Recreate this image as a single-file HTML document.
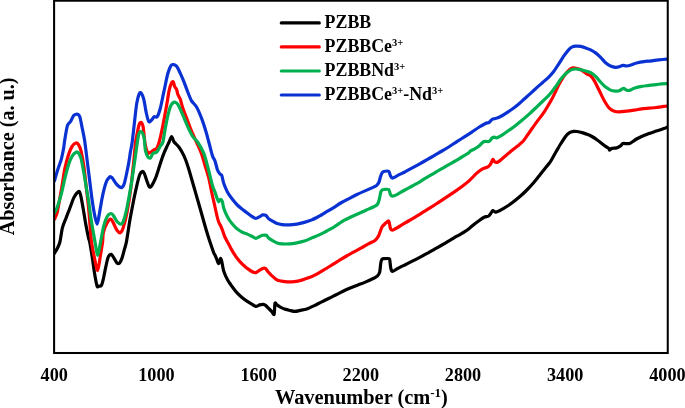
<!DOCTYPE html>
<html><head><meta charset="utf-8"><title>FTIR spectra</title>
<style>
html,body{margin:0;padding:0;background:#fff;}
body{width:685px;height:408px;overflow:hidden;}
svg{display:block;}
text{font-family:"Liberation Serif",serif;font-weight:bold;fill:#000;}
.tk text{font-size:18.2px;}
.lg text{font-size:17.85px;}
.sup{font-size:10.5px;}
.ax{font-size:20.15px;}
.crv path{fill:none;stroke-width:3.2;stroke-linejoin:round;stroke-linecap:round;}
</style></head><body>
<svg width="685" height="408" viewBox="0 0 685 408">
<rect x="0" y="0" width="685" height="408" fill="#fff"/>
<defs><clipPath id="cp"><rect x="54.1" y="0" width="613.65" height="353"/></clipPath></defs>
<g class="crv" clip-path="url(#cp)">
<path d="M54.5,253.2C54.9,252.5 56.6,249.8 57.4,248.2C58.2,246.6 59.2,244.9 59.9,242.0C60.6,239.1 61.5,231.2 62.4,227.8C63.3,224.4 65.0,220.7 66.1,217.9C67.1,215.1 68.9,210.8 69.9,208.0C71.0,205.2 72.6,200.2 73.6,198.1C74.6,196.0 76.0,194.0 76.8,193.1C77.6,192.2 78.7,190.9 79.3,191.4C79.9,191.9 80.4,194.1 81.0,196.8C81.6,199.5 82.8,206.5 83.5,210.5C84.2,214.5 85.3,221.6 86.0,225.4C86.7,229.2 88.0,235.5 88.5,237.8C89.0,240.1 89.2,239.3 89.7,242.0C90.2,244.7 91.5,252.4 92.2,256.9C92.9,261.4 94.0,270.2 94.7,274.3C95.4,278.4 96.5,284.5 97.1,286.2C97.7,287.9 98.5,286.3 99.1,286.2C99.7,286.1 100.8,286.4 101.4,285.4C102.0,284.4 102.7,281.8 103.3,279.2C103.9,276.6 105.1,269.9 105.8,266.8C106.5,263.7 107.5,258.6 108.3,256.9C109.1,255.2 110.5,254.2 111.3,254.4C112.1,254.6 113.2,256.9 114.0,258.1C114.8,259.3 116.2,262.4 117.0,263.1C117.8,263.8 118.8,263.8 119.5,263.1C120.2,262.4 121.3,260.0 122.0,258.1C122.7,256.2 123.8,251.7 124.4,249.4C125.0,247.1 125.7,245.7 126.4,242.0C127.1,238.3 128.5,228.4 129.4,222.9C130.3,217.4 132.1,208.2 133.1,203.0C134.1,197.8 135.9,189.7 136.8,185.7C137.7,181.7 139.0,176.5 139.8,174.5C140.6,172.5 141.7,171.7 142.3,171.5C142.9,171.3 143.7,172.0 144.3,173.3C144.9,174.6 146.1,178.8 146.8,180.7C147.5,182.6 148.6,186.2 149.3,186.9C150.0,187.6 150.8,186.9 151.7,185.7C152.6,184.5 154.4,180.8 155.5,178.2C156.6,175.6 158.2,170.2 159.2,167.1C160.2,164.0 161.9,158.7 162.9,155.9C163.9,153.1 165.7,149.1 166.6,147.2C167.5,145.3 168.4,143.5 169.1,142.0C169.8,140.5 170.9,136.5 171.6,136.5C172.3,136.5 173.1,140.5 174.1,142.0C175.1,143.5 177.6,145.3 179.0,147.2C180.4,149.1 182.8,153.3 184.0,155.9C185.2,158.5 186.7,162.7 187.7,165.8C188.7,168.9 190.2,174.0 191.4,178.2C192.6,182.4 195.0,190.7 196.4,195.6C197.8,200.5 200.0,208.1 201.4,213.0C202.8,217.9 205.1,226.2 206.3,230.3C207.5,234.4 208.9,238.8 210.0,242.0C211.1,245.2 213.1,251.2 213.8,253.0C214.5,254.8 214.6,254.0 215.0,255.0C215.4,256.0 216.5,258.8 217.0,260.0C217.5,261.2 218.2,263.7 218.7,263.5C219.2,263.3 220.1,258.7 220.5,258.5C220.9,258.3 221.5,260.5 221.9,262.2C222.3,263.9 222.9,268.5 223.7,270.9C224.5,273.3 226.2,277.3 227.4,279.6C228.6,281.9 231.0,285.1 232.4,287.0C233.8,288.9 235.9,291.7 237.3,293.2C238.7,294.7 240.9,296.6 242.3,297.7C243.7,298.8 245.9,300.5 247.3,301.4C248.7,302.3 251.0,303.7 252.2,304.4C253.4,305.1 254.8,306.3 255.9,306.4C256.9,306.5 258.6,305.2 259.7,304.9C260.8,304.6 262.5,304.3 263.4,304.4C264.3,304.5 265.2,305.1 265.9,305.6C266.6,306.1 267.5,307.3 268.3,308.1C269.1,308.9 270.8,310.5 271.6,311.4C272.4,312.3 273.6,315.4 274.1,314.3C274.6,313.2 274.6,304.5 275.0,303.2C275.4,301.9 276.2,304.3 277.0,304.9C277.8,305.5 279.6,306.8 280.8,307.4C282.0,308.0 284.3,309.0 285.7,309.4C287.1,309.8 289.5,310.3 290.7,310.6C291.9,310.9 293.2,311.4 294.4,311.4C295.6,311.4 297.7,311.0 299.4,310.6C301.1,310.2 304.7,309.6 306.8,308.9C308.9,308.2 312.2,306.6 314.3,305.6C316.4,304.6 319.6,302.9 321.7,301.9C323.8,300.9 327.0,299.2 329.1,298.2C331.2,297.2 334.5,295.5 336.6,294.5C338.7,293.5 341.9,291.8 344.0,290.8C346.1,289.8 349.4,288.4 351.5,287.5C353.6,286.6 356.8,285.4 358.9,284.6C361.0,283.8 364.3,282.5 366.4,281.6C368.5,280.7 372.2,279.1 373.8,278.3C375.4,277.5 376.7,276.7 377.5,275.9C378.3,275.1 379.1,274.2 379.6,272.4C380.1,270.6 380.5,264.8 380.8,263.0C381.1,261.2 381.5,260.0 381.9,259.4C382.3,258.8 382.6,258.8 383.6,258.7C384.6,258.6 388.3,258.2 389.2,258.7C390.1,259.2 389.8,260.7 390.0,262.0C390.2,263.3 390.5,267.0 390.8,268.3C391.1,269.6 391.5,271.5 392.4,271.5C393.3,271.5 395.7,269.5 397.4,268.6C399.1,267.7 402.7,266.0 404.8,265.0C406.9,264.0 410.2,262.3 412.3,261.2C414.4,260.1 417.6,258.5 419.7,257.4C421.8,256.3 425.0,254.5 427.1,253.4C429.2,252.3 432.5,250.4 434.6,249.2C436.7,248.0 439.9,246.2 442.0,245.0C444.1,243.8 447.4,241.8 449.5,240.6C451.6,239.4 454.8,237.4 456.9,236.2C459.0,235.0 462.7,232.9 464.4,231.8C466.1,230.7 467.9,229.5 469.3,228.4C470.7,227.3 472.9,225.3 474.3,224.2C475.7,223.1 477.9,221.5 479.3,220.5C480.7,219.5 482.9,217.9 484.2,217.3C485.5,216.7 487.7,216.6 488.7,216.0C489.7,215.4 490.6,213.6 491.2,212.8C491.8,212.0 492.4,210.7 492.9,210.6C493.4,210.5 494.3,211.6 494.9,211.8C495.5,212.0 495.8,212.3 497.1,211.8C498.4,211.3 502.1,209.3 504.1,208.1C506.1,206.9 509.4,204.8 511.5,203.3C513.6,201.8 516.9,199.1 519.0,197.3C521.1,195.5 524.3,192.6 526.4,190.5C528.5,188.4 531.8,184.9 533.8,182.5C535.8,180.1 539.2,175.8 541.0,173.5C542.8,171.2 545.6,167.8 547.0,166.0C548.4,164.2 549.8,162.8 551.0,160.8C552.2,158.8 554.5,154.4 555.9,152.0C557.3,149.6 559.5,145.7 560.9,143.5C562.3,141.3 564.7,137.5 565.9,136.0C567.1,134.5 568.6,133.2 569.6,132.6C570.6,132.0 572.3,131.6 573.3,131.4C574.3,131.2 575.8,131.3 577.0,131.5C578.2,131.7 580.6,132.2 582.0,132.6C583.4,133.0 585.6,133.8 587.0,134.3C588.4,134.8 590.5,135.7 591.9,136.5C593.3,137.3 595.5,138.7 596.9,139.7C598.3,140.7 600.6,142.6 601.8,143.5C603.0,144.4 604.6,145.7 605.6,146.4C606.6,147.1 608.3,147.9 608.8,148.4C609.3,148.9 609.1,150.2 609.5,150.2C609.9,150.2 610.8,148.7 611.8,148.4C612.8,148.1 615.5,148.2 616.7,147.9C617.9,147.6 619.6,146.5 620.5,145.9C621.4,145.3 622.0,143.8 622.9,143.5C623.8,143.2 625.8,143.7 626.7,143.7C627.6,143.7 628.7,143.8 629.6,143.5C630.5,143.2 631.9,142.1 632.9,141.5C633.9,140.9 635.4,139.7 636.6,139.0C637.8,138.3 639.9,137.3 641.6,136.5C643.3,135.7 646.9,134.3 649.0,133.5C651.1,132.7 654.3,131.8 656.4,131.1C658.5,130.4 662.4,129.1 663.9,128.6C665.4,128.1 666.5,127.5 666.9,127.3" stroke="#000000"/>
<path d="M54.5,219.2C54.9,218.1 56.5,215.7 57.4,211.7C58.3,207.7 60.1,196.7 61.2,190.6C62.3,184.5 63.9,173.3 64.9,168.3C65.9,163.3 67.6,157.7 68.6,154.6C69.6,151.5 71.2,147.6 72.3,146.0C73.3,144.4 75.2,143.2 76.1,143.0C77.0,142.8 77.8,143.6 78.5,144.7C79.2,145.8 80.3,147.9 81.0,150.9C81.7,153.9 83.1,161.2 83.8,166.0C84.5,170.8 85.4,179.5 86.0,185.0C86.6,190.5 87.7,199.4 88.3,205.0C88.9,210.6 89.6,219.8 90.0,225.0C90.4,230.2 90.9,237.5 91.5,242.0C92.1,246.5 93.4,253.0 94.3,257.0C95.2,261.0 96.7,270.8 97.6,270.5C98.5,270.2 99.8,259.0 100.5,255.0C101.2,251.0 102.2,245.1 102.6,242.0C103.0,238.9 102.7,235.5 103.3,232.8C103.9,230.1 106.0,224.8 107.1,222.9C108.1,221.0 109.9,219.2 110.8,219.2C111.7,219.2 112.4,221.3 113.3,222.9C114.2,224.5 116.0,228.9 117.0,230.3C118.0,231.7 119.3,233.2 120.2,232.8C121.1,232.5 122.3,230.6 123.2,227.8C124.1,225.0 125.9,218.3 126.9,213.0C127.9,207.7 129.7,197.0 130.6,190.0C131.5,183.0 132.9,169.7 133.6,163.0C134.3,156.3 135.1,146.2 135.6,142.0C136.1,137.8 136.8,135.3 137.3,132.8C137.8,130.3 138.7,125.6 139.3,124.1C139.9,122.6 140.8,122.1 141.3,122.4C141.8,122.8 142.6,123.9 143.1,126.6C143.6,129.3 144.4,138.9 144.8,142.0C145.2,145.1 145.9,147.4 146.3,149.0C146.7,150.6 147.4,153.0 148.0,153.4C148.6,153.8 149.6,152.7 150.5,152.2C151.4,151.7 153.3,150.2 154.2,149.7C155.1,149.2 156.0,149.5 156.7,148.4C157.4,147.3 158.3,145.2 159.2,142.0C160.1,138.8 161.9,130.5 162.9,125.4C163.9,120.3 165.7,110.4 166.6,105.5C167.5,100.6 168.4,93.8 169.1,90.6C169.8,87.4 171.0,83.9 171.6,82.7C172.2,81.5 172.9,81.3 173.3,81.9C173.7,82.5 174.3,85.9 174.8,86.9C175.3,88.0 176.2,88.4 176.6,89.4C177.0,90.4 177.3,92.9 177.8,94.3C178.3,95.7 179.6,97.4 180.3,99.3C181.0,101.2 181.9,105.4 182.8,108.0C183.7,110.6 185.5,115.1 186.5,117.9C187.5,120.7 189.2,125.2 190.2,127.8C191.2,130.4 193.0,134.5 193.9,136.5C194.8,138.5 195.3,139.6 196.4,142.0C197.5,144.4 200.2,150.1 201.4,153.4C202.6,156.7 204.1,162.3 205.1,165.8C206.1,169.3 207.8,174.0 208.8,178.2C209.8,182.4 211.6,192.0 212.5,196.0C213.4,200.0 214.4,204.2 215.0,207.0C215.6,209.8 216.5,213.9 217.0,216.0C217.5,218.1 218.2,220.7 218.7,222.0C219.2,223.3 220.0,224.4 220.5,225.5C221.0,226.6 221.8,228.4 222.4,230.0C223.0,231.6 224.0,235.0 224.9,237.0C225.8,239.0 227.5,242.0 228.6,244.0C229.7,246.0 231.2,249.1 232.4,251.1C233.6,253.1 235.9,256.7 237.3,258.5C238.7,260.3 240.9,262.8 242.3,264.2C243.7,265.6 245.9,267.3 247.3,268.4C248.7,269.4 251.0,271.1 252.2,271.7C253.4,272.3 254.8,272.8 255.9,272.6C256.9,272.4 258.8,270.8 259.7,270.2C260.6,269.6 261.8,268.7 262.6,268.4C263.4,268.1 264.6,267.9 265.4,268.4C266.2,268.9 267.4,271.1 268.3,272.1C269.2,273.2 271.1,274.9 272.1,275.9C273.2,276.9 274.8,278.4 275.8,279.1C276.8,279.8 277.9,280.4 279.5,280.8C281.1,281.2 284.9,281.7 287.0,281.8C289.1,281.9 292.3,281.8 294.4,281.6C296.5,281.4 299.7,280.7 301.8,280.1C303.9,279.5 307.2,278.4 309.3,277.6C311.4,276.8 314.6,275.2 316.7,274.1C318.8,273.0 322.1,270.9 324.2,269.7C326.3,268.5 329.5,266.5 331.6,265.2C333.7,263.9 337.0,261.8 339.1,260.5C341.2,259.2 344.4,257.2 346.5,256.0C348.6,254.8 351.9,252.9 354.0,251.8C356.1,250.7 359.3,248.9 361.4,247.8C363.5,246.7 366.9,244.6 368.8,243.6C370.7,242.6 373.7,241.4 375.0,240.4C376.3,239.4 377.5,237.7 378.3,236.4C379.1,235.1 379.9,232.3 380.4,231.0C380.9,229.7 381.4,228.0 382.0,227.0C382.6,226.0 384.1,224.6 385.0,223.8C385.9,223.0 387.9,220.4 388.7,221.0C389.5,221.6 389.9,227.1 390.4,228.4C390.9,229.7 391.4,230.3 392.4,230.2C393.4,230.1 395.7,228.7 397.4,227.7C399.1,226.7 402.7,224.4 404.8,223.2C406.9,222.0 410.2,220.0 412.3,218.8C414.4,217.6 417.6,215.6 419.7,214.3C421.8,213.0 425.0,210.9 427.1,209.6C429.2,208.3 432.5,206.3 434.6,205.0C436.7,203.7 439.9,201.6 442.0,200.2C444.1,198.8 447.4,196.6 449.5,195.2C451.6,193.8 455.1,191.4 456.9,190.2C458.6,189.0 460.3,187.8 462.0,186.5C463.7,185.2 467.2,182.5 469.3,180.6C471.4,178.7 474.9,174.8 476.8,173.1C478.7,171.4 481.4,169.6 483.0,168.7C484.6,167.8 486.9,167.5 487.9,166.9C488.9,166.3 489.7,165.4 490.4,164.4C491.1,163.4 492.3,159.8 492.9,159.5C493.5,159.2 494.2,161.7 494.9,162.0C495.6,162.3 496.6,162.7 497.9,162.0C499.2,161.3 502.2,158.6 504.1,157.0C506.0,155.4 509.6,152.3 511.5,150.8C513.4,149.3 515.8,147.4 517.5,146.0C519.2,144.6 521.5,143.0 523.3,141.0C525.0,139.0 528.1,134.2 530.0,131.5C531.9,128.8 534.8,124.6 536.8,121.9C538.8,119.2 542.0,115.2 544.1,112.1C546.2,109.0 549.9,102.6 551.5,99.8C553.1,97.0 554.2,94.4 555.2,92.3C556.2,90.2 557.8,86.7 558.8,84.8C559.8,82.9 561.5,80.0 562.5,78.4C563.5,76.8 565.2,74.5 566.2,73.3C567.2,72.1 568.6,70.3 569.6,69.5C570.6,68.7 572.3,67.9 573.3,67.8C574.3,67.7 576.0,68.2 577.0,68.5C578.0,68.8 579.8,69.2 580.8,69.7C581.8,70.2 583.5,71.5 584.5,72.2C585.5,72.9 587.3,74.2 588.2,74.7C589.1,75.2 589.8,75.0 590.7,75.9C591.6,76.8 593.2,78.8 594.4,80.9C595.6,83.0 598.0,88.0 599.4,90.8C600.8,93.6 602.9,98.4 604.3,100.8C605.7,103.2 607.9,106.7 609.3,108.2C610.7,109.7 612.9,110.7 614.3,111.2C615.7,111.7 617.5,111.9 619.2,111.9C620.9,111.9 624.6,111.4 626.7,111.2C628.8,111.0 632.0,110.5 634.1,110.2C636.2,109.9 639.5,109.2 641.6,108.9C643.7,108.6 646.9,108.4 649.0,108.2C651.1,108.0 653.9,107.8 656.4,107.5C658.9,107.2 665.4,106.2 666.9,106.0" stroke="#FF0000"/>
<path d="M54.5,213.0C54.9,212.1 56.5,209.4 57.4,206.8C58.3,204.2 60.1,198.3 61.2,194.3C62.3,190.3 63.9,182.4 64.9,178.2C65.9,174.0 67.6,167.7 68.6,164.6C69.6,161.5 71.2,157.6 72.3,155.9C73.3,154.2 75.2,152.6 76.1,152.2C77.0,151.8 77.8,152.0 78.5,152.9C79.2,153.8 80.3,155.9 81.0,158.4C81.7,160.9 82.8,167.0 83.5,170.8C84.2,174.6 85.3,181.5 86.0,185.7C86.7,189.9 87.8,196.1 88.5,200.6C89.2,205.1 90.2,213.4 90.9,217.9C91.6,222.4 92.8,229.3 93.4,232.8C94.0,236.3 94.6,239.8 95.2,243.0C95.8,246.2 96.9,255.6 97.6,255.6C98.3,255.6 99.6,246.9 100.4,243.0C101.2,239.1 102.4,231.5 103.3,227.8C104.2,224.1 106.0,218.7 107.1,216.7C108.1,214.7 109.9,213.7 110.8,213.5C111.7,213.3 112.4,214.3 113.3,215.4C114.2,216.5 116.0,220.4 117.0,221.6C118.0,222.8 119.8,224.1 120.7,224.1C121.6,224.1 122.3,223.9 123.2,221.6C124.1,219.3 125.9,212.7 126.9,208.0C127.9,203.3 129.5,194.4 130.6,188.1C131.7,181.8 133.5,169.2 134.4,163.3C135.3,157.4 136.2,150.1 136.8,146.0C137.4,141.9 138.2,136.0 138.8,134.0C139.4,132.0 140.6,131.2 141.3,131.6C142.0,131.9 143.3,135.0 143.8,136.5C144.3,138.0 144.4,140.0 144.6,142.0C144.8,144.0 145.0,148.8 145.5,150.9C146.0,153.0 147.3,156.1 148.0,157.1C148.7,158.1 149.8,158.4 150.5,157.9C151.2,157.4 152.1,154.2 153.0,153.4C153.9,152.6 155.7,153.2 156.7,152.2C157.7,151.2 159.5,147.4 160.4,146.0C161.3,144.6 162.2,144.5 162.9,142.0C163.6,139.5 164.7,131.5 165.4,127.8C166.1,124.1 167.2,118.3 167.9,115.4C168.6,112.5 169.6,108.5 170.3,106.8C171.0,105.1 172.1,103.6 172.8,103.0C173.5,102.4 174.6,102.1 175.3,102.3C176.0,102.5 177.1,103.3 177.8,104.3C178.5,105.3 179.4,107.3 180.3,109.2C181.2,111.1 183.0,115.5 184.0,117.9C185.0,120.3 186.5,124.0 187.7,126.6C188.9,129.2 191.3,134.3 192.7,136.5C194.1,138.7 196.0,139.6 197.6,142.0C199.2,144.4 202.2,149.4 203.8,153.4C205.4,157.4 207.6,166.3 208.8,170.8C210.0,175.3 211.6,182.7 212.5,185.7C213.4,188.7 214.4,190.3 215.0,192.0C215.6,193.7 216.5,196.7 217.0,198.1C217.5,199.5 218.2,201.6 218.7,201.8C219.2,202.0 220.0,199.3 220.5,199.3C221.0,199.3 222.0,200.6 222.4,201.8C222.8,203.0 223.0,205.9 223.7,208.0C224.4,210.1 226.2,214.4 227.4,216.7C228.6,219.0 231.0,222.4 232.4,224.1C233.8,225.8 235.9,228.0 237.3,229.1C238.7,230.2 240.9,231.6 242.3,232.3C243.7,233.0 245.9,233.5 247.3,234.1C248.7,234.7 251.0,235.9 252.2,236.5C253.4,237.1 254.8,238.3 255.9,238.3C256.9,238.3 258.8,236.9 259.7,236.5C260.6,236.1 261.7,235.5 262.6,235.3C263.5,235.1 265.6,235.0 266.4,235.3C267.2,235.7 267.5,237.1 268.3,237.8C269.1,238.5 270.9,239.6 272.1,240.3C273.3,241.0 275.6,242.4 277.0,242.9C278.4,243.4 280.3,243.8 282.0,243.9C283.7,244.0 287.3,244.0 289.4,243.9C291.5,243.8 294.8,243.3 296.9,242.9C299.0,242.5 302.2,241.8 304.3,241.1C306.4,240.4 309.7,238.8 311.8,237.9C313.9,237.0 317.1,235.9 319.2,234.9C321.3,233.9 324.6,232.1 326.7,231.0C328.8,229.9 331.7,228.5 334.1,227.0C336.5,225.5 341.6,221.8 344.0,220.4C346.4,219.0 349.4,217.7 351.5,216.7C353.6,215.7 356.8,214.4 358.9,213.5C361.0,212.6 364.3,210.9 366.4,210.0C368.5,209.1 372.2,207.6 373.8,206.8C375.4,206.0 376.7,205.4 377.5,204.3C378.3,203.2 378.8,201.0 379.3,199.3C379.8,197.6 380.4,193.3 380.8,192.0C381.2,190.7 382.1,190.2 382.5,189.8C382.9,189.5 382.8,189.5 383.7,189.5C384.6,189.5 387.8,188.8 388.7,189.5C389.6,190.2 389.9,193.5 390.4,194.4C390.9,195.3 391.4,196.2 392.4,196.2C393.4,196.2 395.7,195.3 397.4,194.4C399.1,193.5 402.7,191.2 404.8,190.0C406.9,188.8 410.3,187.1 412.3,186.0C414.3,184.9 417.3,183.3 419.0,182.3C420.7,181.3 422.9,179.7 424.7,178.6C426.5,177.5 430.0,175.6 432.1,174.4C434.2,173.2 437.5,171.1 439.6,169.9C441.7,168.7 444.9,166.9 447.0,165.7C449.1,164.5 452.3,162.7 454.4,161.5C456.5,160.3 460.0,158.1 461.9,157.0C463.8,155.9 466.9,154.2 468.1,153.3C469.3,152.4 469.7,151.4 470.6,150.8C471.5,150.2 473.1,149.8 474.3,149.1C475.5,148.4 478.1,146.8 479.3,145.8C480.5,144.8 482.1,142.7 483.0,142.1C483.9,141.5 484.6,141.5 485.5,141.4C486.4,141.3 488.3,141.9 489.2,141.4C490.1,140.9 491.4,138.5 492.2,137.9C493.0,137.3 494.0,137.1 494.6,137.1C495.2,137.1 495.6,138.1 496.6,137.9C497.6,137.7 499.9,136.5 501.6,135.4C503.3,134.3 507.2,131.5 509.0,130.2C510.8,128.9 512.9,127.7 514.7,126.3C516.5,124.9 519.9,122.0 522.0,120.3C524.1,118.6 527.3,115.8 529.4,113.9C531.5,112.0 534.7,108.9 536.8,106.9C538.9,104.9 542.4,101.5 544.1,99.9C545.8,98.3 547.6,96.7 549.0,95.2C550.4,93.7 552.7,90.6 553.9,89.0C555.1,87.4 556.6,85.3 557.6,83.8C558.6,82.3 560.1,80.1 561.3,78.6C562.5,77.1 564.8,74.5 566.2,73.3C567.6,72.1 569.8,70.5 571.1,69.9C572.4,69.3 574.4,69.0 575.8,69.0C577.2,69.0 579.4,69.4 580.8,69.7C582.2,70.0 584.3,70.6 585.7,71.0C587.1,71.4 589.3,71.9 590.7,72.7C592.1,73.5 594.2,75.1 595.6,76.4C597.0,77.7 599.2,80.6 600.6,82.1C602.0,83.6 604.2,86.0 605.6,87.1C607.0,88.2 609.1,89.5 610.5,90.1C611.9,90.7 614.3,91.0 615.5,91.1C616.7,91.2 618.1,91.2 619.2,90.8C620.3,90.4 622.4,88.4 623.4,88.3C624.4,88.2 625.7,90.0 626.7,90.3C627.7,90.6 629.4,90.4 630.4,90.1C631.4,89.8 632.5,88.8 634.1,88.3C635.7,87.8 639.5,86.8 641.6,86.4C643.7,86.0 646.9,85.7 649.0,85.4C651.1,85.1 654.7,84.8 656.4,84.6C658.1,84.4 659.9,84.0 661.4,83.9C662.9,83.8 666.1,83.6 666.9,83.6" stroke="#00B050"/>
<path d="M54.5,180.7C54.9,179.3 56.5,173.8 57.4,170.8C58.3,167.8 60.3,162.7 61.2,159.6C62.1,156.5 63.1,151.0 63.6,148.4C64.1,145.8 64.1,144.2 64.6,141.0C65.1,137.8 66.6,128.3 67.4,125.6C68.2,122.9 69.8,122.9 70.6,121.5C71.4,120.1 72.7,116.8 73.4,115.8C74.1,114.8 74.9,114.6 75.5,114.4C76.1,114.2 77.4,114.0 78.0,114.4C78.6,114.8 79.4,115.4 80.0,117.4C80.6,119.4 81.6,125.2 82.3,128.5C83.0,131.8 84.0,136.5 84.7,141.0C85.4,145.5 86.5,155.3 87.2,160.9C87.9,166.5 89.0,175.1 89.7,180.7C90.4,186.3 91.5,195.7 92.2,200.6C92.9,205.5 94.0,212.1 94.7,215.4C95.4,218.7 96.5,224.1 97.1,224.1C97.7,224.1 98.4,219.0 99.1,215.4C99.8,211.8 101.2,202.6 102.1,198.1C103.0,193.6 104.8,186.2 105.8,183.2C106.8,180.2 108.7,177.8 109.6,177.0C110.5,176.2 111.1,176.8 112.0,177.7C112.9,178.6 114.8,181.9 115.8,183.2C116.8,184.5 118.6,186.3 119.5,186.9C120.4,187.5 121.3,187.9 122.0,187.4C122.7,186.9 123.5,186.2 124.4,183.2C125.3,180.2 127.3,170.3 128.2,165.8C129.1,161.3 130.0,154.2 130.6,150.9C131.2,147.6 131.7,145.9 132.2,142.0C132.7,138.1 133.8,128.4 134.4,122.9C135.0,117.4 136.1,107.1 136.8,103.0C137.5,98.9 138.7,95.0 139.3,93.6C139.9,92.2 140.7,92.3 141.3,93.1C141.9,93.9 143.1,96.5 143.8,99.3C144.5,102.1 145.6,109.9 146.3,113.0C147.0,116.1 148.0,120.6 148.8,121.6C149.6,122.6 150.9,120.6 151.7,119.9C152.5,119.2 153.4,117.1 154.2,116.7C155.0,116.3 156.3,117.9 157.2,116.7C158.1,115.5 159.4,111.7 160.4,108.0C161.4,104.3 163.0,95.5 164.1,90.6C165.2,85.7 166.9,76.8 167.9,73.3C168.9,69.8 170.3,66.5 171.1,65.3C171.9,64.1 172.8,64.5 173.6,64.6C174.4,64.7 175.7,65.1 176.6,66.3C177.5,67.5 179.3,71.1 180.3,73.3C181.3,75.5 183.0,79.3 184.0,81.9C185.0,84.5 186.7,89.3 187.7,91.9C188.7,94.5 190.2,98.5 191.4,100.6C192.6,102.7 195.0,104.4 196.4,106.8C197.8,109.2 200.0,114.3 201.4,117.9C202.8,121.5 205.3,129.4 206.3,132.8C207.3,136.2 207.9,138.8 208.8,142.0C209.7,145.2 211.6,153.2 212.5,155.9C213.4,158.6 214.3,159.0 215.0,161.0C215.7,163.0 216.8,168.2 217.5,170.0C218.2,171.8 219.4,173.2 220.0,174.0C220.6,174.8 221.4,174.4 221.9,175.7C222.4,177.0 222.9,180.9 223.7,183.2C224.5,185.5 226.2,189.6 227.4,191.9C228.6,194.2 231.0,197.5 232.4,199.3C233.8,201.1 235.9,203.6 237.3,205.0C238.7,206.4 240.9,208.1 242.3,209.2C243.7,210.3 245.9,211.9 247.3,213.0C248.7,214.1 251.0,215.9 252.2,216.7C253.4,217.5 254.8,218.4 255.9,218.4C256.9,218.4 258.8,217.2 259.7,216.7C260.6,216.2 261.7,215.1 262.6,214.9C263.5,214.7 265.1,214.9 265.9,215.4C266.7,215.9 267.4,217.6 268.3,218.4C269.2,219.2 270.9,220.2 272.1,220.9C273.3,221.6 275.6,223.1 277.0,223.6C278.4,224.1 280.3,224.4 282.0,224.6C283.7,224.8 287.3,225.0 289.4,224.9C291.5,224.8 294.8,224.4 296.9,224.1C299.0,223.8 302.2,223.0 304.3,222.4C306.4,221.8 309.7,220.8 311.8,219.9C313.9,219.0 317.1,217.3 319.2,216.2C321.3,215.1 324.6,212.9 326.7,211.7C328.8,210.5 332.0,208.6 334.1,207.3C336.2,206.0 339.5,203.7 341.6,202.5C343.7,201.3 346.9,199.7 349.0,198.6C351.1,197.5 354.3,195.8 356.4,194.8C358.5,193.8 361.8,192.3 363.9,191.4C366.0,190.5 369.6,188.9 371.3,188.1C373.0,187.3 375.2,186.5 376.3,185.7C377.4,184.9 378.2,183.7 378.8,182.5C379.4,181.3 380.0,178.3 380.4,177.0C380.8,175.7 381.5,173.8 382.0,173.0C382.5,172.2 382.8,171.7 383.7,171.5C384.6,171.3 387.8,170.8 388.7,171.4C389.6,172.0 389.9,174.7 390.4,175.6C390.9,176.5 391.4,178.1 392.4,178.1C393.4,178.1 395.7,176.5 397.4,175.6C399.1,174.7 402.7,173.1 404.8,172.0C406.9,170.9 410.2,169.0 412.3,167.9C414.4,166.8 417.6,165.1 419.7,163.9C421.8,162.7 425.0,160.8 427.1,159.6C429.2,158.4 432.5,156.6 434.6,155.4C436.7,154.2 439.9,152.2 442.0,151.0C444.1,149.8 447.4,147.8 449.5,146.5C451.6,145.2 454.8,142.9 456.9,141.6C459.0,140.3 462.3,138.2 464.4,136.9C466.5,135.6 469.7,133.5 471.8,132.1C473.9,130.7 477.4,128.2 479.3,127.0C481.2,125.8 484.1,124.2 485.5,123.5C486.9,122.8 488.3,122.9 489.2,122.3C490.1,121.7 491.3,119.8 492.2,119.3C493.1,118.8 494.4,118.8 495.4,118.5C496.4,118.2 497.5,118.1 499.1,117.3C500.7,116.5 504.8,114.0 506.6,112.8C508.4,111.6 510.6,110.2 512.3,109.0C514.0,107.8 516.8,105.6 518.5,104.2C520.2,102.8 522.8,100.3 524.5,98.8C526.2,97.3 528.9,95.0 530.6,93.4C532.3,91.8 535.1,89.2 536.8,87.6C538.5,86.0 541.3,83.7 543.0,82.2C544.7,80.7 547.5,78.3 549.0,76.8C550.5,75.3 552.5,73.0 553.9,71.2C555.3,69.4 557.4,65.9 558.8,63.8C560.2,61.7 562.3,58.2 563.7,56.2C565.1,54.2 567.4,51.1 568.6,49.8C569.8,48.5 571.3,47.4 572.3,46.9C573.3,46.4 574.6,46.3 575.8,46.2C577.0,46.1 579.4,46.2 580.8,46.4C582.2,46.6 584.3,47.4 585.7,47.9C587.1,48.4 589.3,49.2 590.7,49.9C592.1,50.6 594.2,51.9 595.6,52.9C597.0,53.9 599.2,55.9 600.6,57.3C602.0,58.7 604.2,61.6 605.6,62.8C607.0,64.0 609.1,65.4 610.5,66.0C611.9,66.6 614.3,67.2 615.5,67.3C616.7,67.4 618.2,67.1 619.2,66.8C620.2,66.5 621.9,65.4 622.9,65.3C623.9,65.2 625.5,66.1 626.7,66.0C627.9,65.9 630.2,65.2 631.6,64.8C633.0,64.4 634.9,63.4 636.6,63.0C638.3,62.6 641.9,61.9 644.0,61.6C646.1,61.3 649.4,61.1 651.5,60.8C653.6,60.5 656.7,60.0 658.9,59.8C661.1,59.6 665.8,59.2 666.9,59.1" stroke="#0A32D2"/>
</g>
<rect x="54.1" y="0.7" width="613.65" height="352.3" fill="none" stroke="#000" stroke-width="2.05"/>
<g class="tk">
<text transform="translate(54.2,381.2)" text-anchor="middle">400</text>
<text transform="translate(156.4,381.2)" text-anchor="middle">1000</text>
<text transform="translate(258.6,381.2)" text-anchor="middle">1600</text>
<text transform="translate(360.8,381.2)" text-anchor="middle">2200</text>
<text transform="translate(463.0,381.2)" text-anchor="middle">2800</text>
<text transform="translate(565.2,381.2)" text-anchor="middle">3400</text>
<text transform="translate(667.4,381.2)" text-anchor="middle">4000</text>
</g>
<g class="lg">
<line x1="281.3" y1="22.9" x2="319.3" y2="22.9" stroke="#000000" stroke-width="3.2" stroke-linecap="round"/>
<text x="324.6" y="27.8">PZBB</text>
<line x1="281.3" y1="46.9" x2="319.3" y2="46.9" stroke="#FF0000" stroke-width="3.2" stroke-linecap="round"/>
<text x="324.6" y="51.8">PZBBCe<tspan class="sup" dy="-5.5">3+</tspan></text>
<line x1="281.3" y1="71.0" x2="319.3" y2="71.0" stroke="#00B050" stroke-width="3.2" stroke-linecap="round"/>
<text x="324.6" y="75.9">PZBBNd<tspan class="sup" dy="-5.5">3+</tspan></text>
<line x1="281.3" y1="95.0" x2="319.3" y2="95.0" stroke="#0A32D2" stroke-width="3.2" stroke-linecap="round"/>
<text x="324.6" y="99.9">PZBBCe<tspan class="sup" dy="-5.5">3+</tspan><tspan dy="5.5">-Nd</tspan><tspan class="sup" dy="-5.5">3+</tspan></text>
</g>
<text class="ax" x="274.9" y="403.8" style="font-size:20.4px">Wavenumber (cm<tspan font-size="13" dy="-7">-1</tspan><tspan dy="7">)</tspan></text>
<text class="ax" transform="translate(14,235.3) rotate(-90)">Absorbance (a. u.)</text>
</svg>
</body></html>
